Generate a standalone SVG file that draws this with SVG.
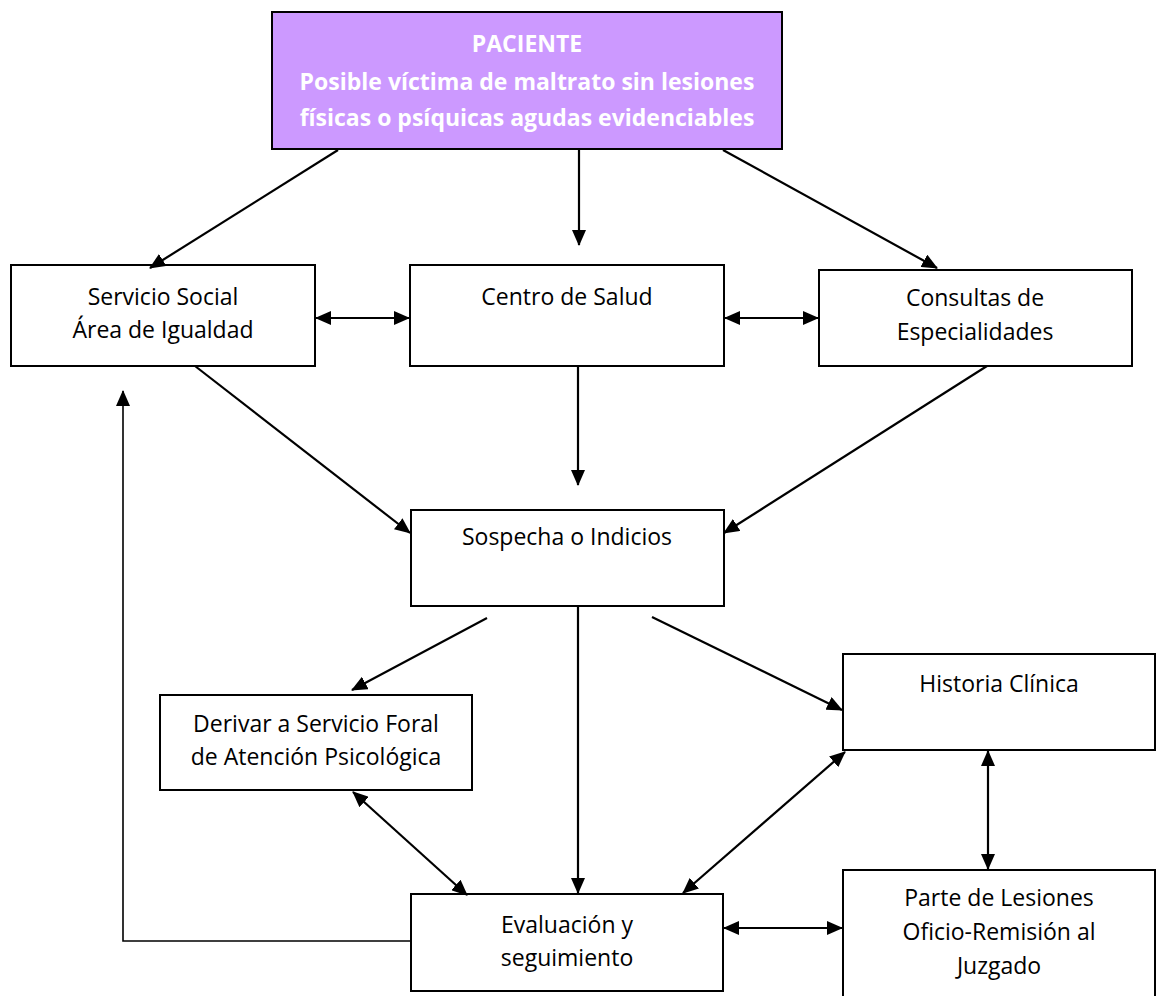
<svg xmlns="http://www.w3.org/2000/svg" width="1162" height="996" viewBox="0 0 1162 996">
<style>
.box{fill:#fff;stroke:#000;stroke-width:2}
.top{fill:#CC99FF;stroke:#000;stroke-width:2}
.t{font-family:"Open Sans","Liberation Sans",sans-serif;font-size:23px;fill:#000;text-anchor:middle}
.tb{font-family:"Open Sans","Liberation Sans",sans-serif;font-size:23px;font-weight:bold;fill:#fff;text-anchor:middle}
.c{fill:none;stroke:#000;stroke-width:2.2}
.thin{fill:none;stroke:#000;stroke-width:1.6}
</style>
<defs>
<marker id="ah" markerUnits="userSpaceOnUse" markerWidth="16" markerHeight="14" refX="15" refY="7" orient="auto-start-reverse" viewBox="0 0 16 14">
<path d="M0,0 L16,7 L0,14 z" fill="#000"/>
</marker>
</defs>
<g id="paciente">
<rect class="top" x="272" y="12" width="510" height="137"/>
<text class="tb" x="527" y="52">PACIENTE</text>
<text class="tb" x="527" y="90">Posible víctima de maltrato sin lesiones</text>
<text class="tb" x="527" y="126">físicas o psíquicas agudas evidenciables</text>
</g>
<g id="servicio-social">
<rect class="box" x="11" y="265" width="304" height="101"/>
<text class="t" x="163" y="305">Servicio Social</text>
<text class="t" x="163" y="338">Área de Igualdad</text>
</g>
<g id="centro-salud">
<rect class="box" x="410" y="265" width="314" height="101"/>
<text class="t" x="567" y="305">Centro de Salud</text>
</g>
<g id="consultas">
<rect class="box" x="819" y="270" width="313" height="96"/>
<text class="t" x="975" y="306">Consultas de</text>
<text class="t" x="975" y="340">Especialidades</text>
</g>
<g id="sospecha">
<rect class="box" x="411" y="510" width="313" height="96"/>
<text class="t" x="567" y="545">Sospecha o Indicios</text>
</g>
<g id="derivar">
<rect class="box" x="160" y="695" width="312" height="95"/>
<text class="t" x="316" y="732">Derivar a Servicio Foral</text>
<text class="t" x="316" y="765">de Atención Psicológica</text>
</g>
<g id="historia">
<rect class="box" x="843" y="654" width="312" height="96"/>
<text class="t" x="999" y="692">Historia Clínica</text>
</g>
<g id="evaluacion">
<rect class="box" x="411" y="894" width="312" height="97"/>
<text class="t" x="567" y="933">Evaluación y</text>
<text class="t" x="567" y="966">seguimiento</text>
</g>
<g id="parte-lesiones">
<rect class="box" x="843" y="870" width="312" height="140"/>
<text class="t" x="999" y="906">Parte de Lesiones</text>
<text class="t" x="999" y="940">Oficio-Remisión al</text>
<text class="t" x="999" y="974">Juzgado</text>
</g>
<g id="connectors">
<line class="c" x1="338" y1="150" x2="150" y2="268" marker-end="url(#ah)"/>
<line class="c" x1="579" y1="150" x2="579" y2="245" marker-end="url(#ah)"/>
<line class="c" x1="723" y1="150" x2="937" y2="268" marker-end="url(#ah)"/>
<line class="c" x1="316" y1="318" x2="409" y2="318" marker-start="url(#ah)" marker-end="url(#ah)"/>
<line class="c" x1="725" y1="318" x2="818" y2="318" marker-start="url(#ah)" marker-end="url(#ah)"/>
<line class="c" x1="195" y1="366" x2="410" y2="533" marker-end="url(#ah)"/>
<line class="c" x1="578" y1="366" x2="578" y2="485" marker-end="url(#ah)"/>
<line class="c" x1="987" y1="366" x2="724" y2="533" marker-end="url(#ah)"/>
<line class="c" x1="487" y1="618" x2="352" y2="690" marker-end="url(#ah)"/>
<line class="c" x1="578" y1="606" x2="578" y2="893" marker-end="url(#ah)"/>
<line class="c" x1="652" y1="617" x2="842" y2="710" marker-end="url(#ah)"/>
<line class="c" x1="353" y1="792" x2="467" y2="895" marker-start="url(#ah)" marker-end="url(#ah)"/>
<line class="c" x1="845" y1="752" x2="683" y2="893" marker-start="url(#ah)" marker-end="url(#ah)"/>
<line class="c" x1="988" y1="751" x2="988" y2="869" marker-start="url(#ah)" marker-end="url(#ah)"/>
<line class="c" x1="724" y1="928" x2="842" y2="928" marker-start="url(#ah)" marker-end="url(#ah)"/>
<polyline class="thin" points="411,941 123,941 123,391" marker-end="url(#ah)"/>
</g>
</svg>
